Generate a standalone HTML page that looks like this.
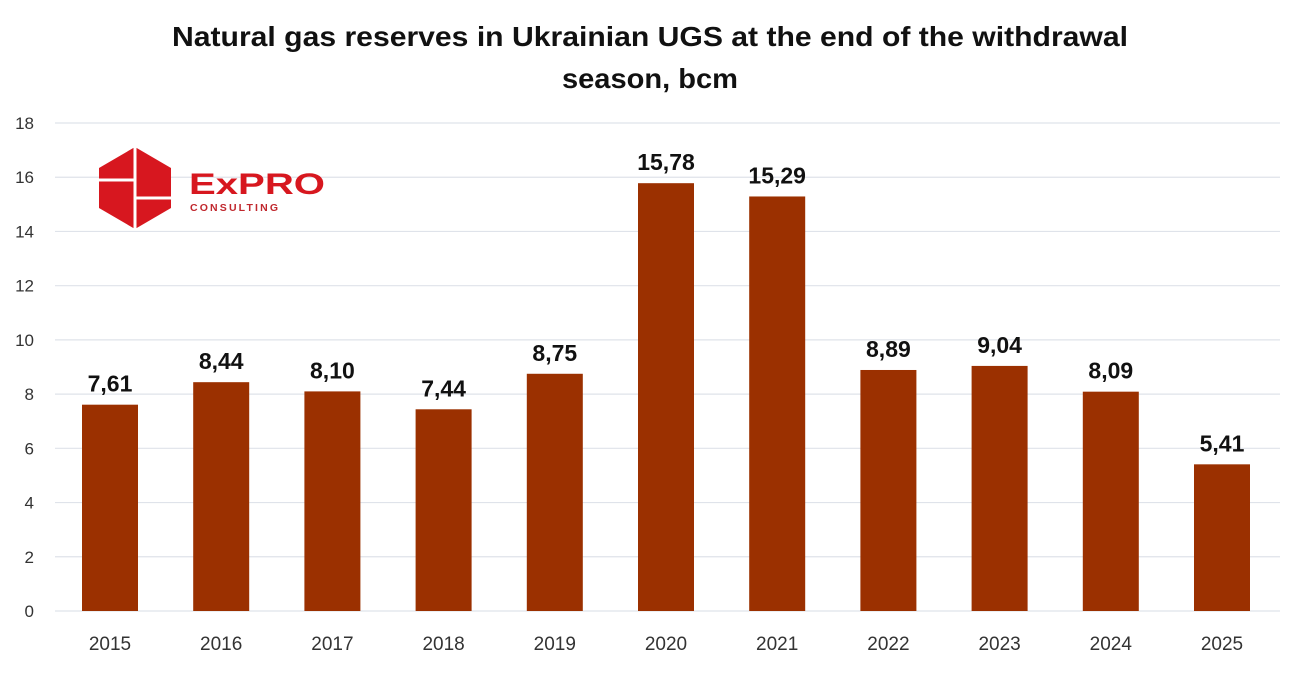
<!DOCTYPE html>
<html><head><meta charset="utf-8"><style>
body{margin:0;background:#fff;width:1300px;height:671px;overflow:hidden;font-family:"Liberation Sans",sans-serif}
</style></head><body>
<svg id="chart" width="1300" height="671" xmlns="http://www.w3.org/2000/svg">
<text x="650" y="46" text-anchor="middle" font-size="28" font-weight="bold" fill="#111" textLength="956" lengthAdjust="spacingAndGlyphs">Natural gas reserves in Ukrainian UGS at the end of the withdrawal</text>
<text x="650" y="88" text-anchor="middle" font-size="28" font-weight="bold" fill="#111" textLength="176" lengthAdjust="spacingAndGlyphs">season, bcm</text>
<g id="grid"></g><g id="bars"></g>
<g>
<polygon points="135,147 171,168 171,208 135,229 99,208 99,168" fill="#d7171f"/>
<line x1="135" y1="147" x2="135" y2="229" stroke="#fff" stroke-width="3"/>
<line x1="99" y1="180" x2="135" y2="180" stroke="#fff" stroke-width="3"/>
<line x1="135" y1="198" x2="171" y2="198" stroke="#fff" stroke-width="3"/>
<text x="189" y="194" font-size="30" font-weight="bold" fill="#d7171f" textLength="136" lengthAdjust="spacingAndGlyphs">ExPRO</text>
<text x="190" y="211" font-size="10.5" font-weight="bold" fill="#c0272d" textLength="88">CONSULTING</text>
</g>
</svg>
<script>
const categories=["2015","2016","2017","2018","2019","2020","2021","2022","2023","2024","2025"];
const values=[7.61,8.44,8.10,7.44,8.75,15.78,15.29,8.89,9.04,8.09,5.41];
const labels=["7,61","8,44","8,10","7,44","8,75","15,78","15,29","8,89","9,04","8,09","5,41"];
const yTicks=[0,2,4,6,8,10,12,14,16,18];
const NS="http://www.w3.org/2000/svg";
const y=v=>611-v*(488/18);
const x=i=>110+i*111.2;
const grid=document.getElementById('grid'),bars=document.getElementById('bars');
function mk(tag,attrs,parent){const e=document.createElementNS(NS,tag);for(const k in attrs)e.setAttribute(k,attrs[k]);parent.appendChild(e);return e;}
yTicks.forEach(t=>{
 const l=mk('line',{x1:55,x2:1280,y1:y(t),y2:y(t),stroke:'#dfe3ea','stroke-width':1.2},grid);
 
 
 const tx=mk('text',{x:34,y:y(t)+6,'text-anchor':'end','font-size':17,fill:'#333'},grid);
 tx.textContent=t;
 
 
});
categories.forEach((c,i)=>{
 const r=mk('rect',{x:x(i)-28,y:y(values[i]),width:56,height:611-y(values[i]),fill:'#9b3000'},bars);
 
 
 const v=mk('text',{x:x(i),y:y(values[i])-13,'text-anchor':'middle','font-size':23,'font-weight':'bold',fill:'#111'},bars);
 v.textContent=labels[i];
 
 
 const xl=mk('text',{x:x(i),y:650,'text-anchor':'middle','font-size':19,fill:'#333'},bars);
 xl.textContent=c;
 
 
});
</script>
</body></html>
